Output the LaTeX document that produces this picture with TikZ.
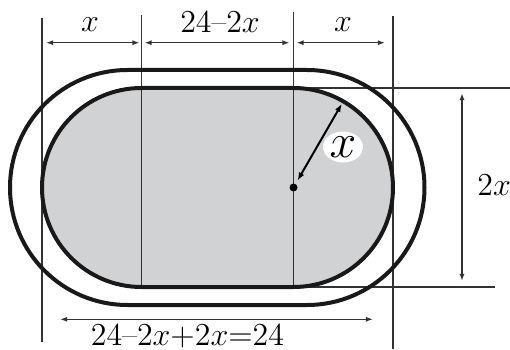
\RequirePackage{fix-cm}
\documentclass[tikz,border=0pt]{standalone}
\usetikzlibrary{arrows.meta,shapes.geometric,calc}
\definecolor{fieldgray}{RGB}{209,210,212}
\begin{document}
\begin{tikzpicture}[x=0.5pt, y=0.5pt,
    thinline/.style={draw=black!80, line width=0.75pt},
    trackline/.style={draw=black!90, line width=2pt},
    dimarrow/.style={thinline, {Latex[length=3.6pt,width=2.6pt]}-{Latex[length=3.6pt,width=2.6pt]}},
    dimlabel/.style={inner sep=0pt, font=\fontsize{16}{19}\selectfont}]
  \useasboundingbox (0,0) rectangle (510,349);
  \fill[fieldgray] (141.5,261) -- (293.5,261) arc[start angle=90, end angle=-90, radius=99.5]
    -- (141.5,62) arc[start angle=270, end angle=90, radius=99.5] -- cycle;
  \foreach \name/\xx/\top/\bot in {va/42/331/7, vb/141.5/334/62, vc/293.5/337/62, vd/393/333/0} {
    \coordinate (\name-t) at (\xx,\top);
    \coordinate (\name-b) at (\xx,\bot);
    \draw[thinline] (\name-t) -- (\name-b);
  }
  \coordinate (htop-l) at (293.5,261);
  \coordinate (htop-r) at (510,261);
  \coordinate (hbot-l) at (293.5,62);
  \coordinate (hbot-r) at (495,62);
  \draw[thinline] (htop-l) -- (htop-r);
  \draw[thinline] (hbot-l) -- (hbot-r);
  \draw[trackline] (127.5,279) -- (307,279) arc[start angle=90, end angle=-90, radius=117.5]
    -- (127.5,44) arc[start angle=270, end angle=90, radius=117.5] -- cycle;
  \draw[trackline] (141.5,261) -- (293.5,261) arc[start angle=90, end angle=-90, radius=99.5]
    -- (141.5,62) arc[start angle=270, end angle=90, radius=99.5] -- cycle;
  % dimensions on top
  \coordinate (dimy) at (0,306.3);
  \draw[dimarrow, shorten <=2pt, shorten >=1pt] (va-t |- dimy) -- (vb-t |- dimy);
  \draw[dimarrow, shorten <=1.5pt, shorten >=2pt] (vb-t |- dimy) -- (vc-t |- dimy);
  \draw[dimarrow, shorten <=1.5pt, shorten >=4pt] (vc-t |- dimy) -- (vd-t |- dimy);
  \node[dimlabel] (lx1) at (90,324) {$x$};
  \node[dimlabel] (lmid) at (220,326.5) {$24\mbox{--}2x$};
  \node[dimlabel] (lx2) at (343,324) {$x$};
  % height on the right
  \coordinate (dimx) at (462,0);
  \draw[dimarrow, shorten <=2.5pt, shorten >=3pt] (dimx |- htop-l) -- (dimx |- hbot-l);
  \node[dimlabel, anchor=west] (l2x) at (477,164) {$2x$};
  % total length
  \coordinate (tot-l) at (60,29.7);
  \coordinate (tot-r) at (373,29.7);
  \draw[dimarrow] (tot-l) -- (tot-r);
  \node[dimlabel] (ltot) at (187.5,13) {$24\mbox{--}2x{+}2x{=}24$};
  % radius
  \coordinate (ctr) at (293.5,161.5);
  \coordinate (rim) at ($(ctr)+(60:99.5)$);
  \fill (ctr) circle (4);
  \draw[black, line width=1pt, {Latex[length=4pt,width=3pt]}-{Latex[length=4pt,width=3pt]}, shorten <=4pt, shorten >=1.5pt] (ctr) -- (rim);
  \node[ellipse, fill=white, inner sep=0pt, minimum width=20pt, minimum height=15.5pt,
    font=\fontsize{24}{28}\selectfont] (lrad) at (343,202) {$x$};
\end{tikzpicture}
\end{document}
